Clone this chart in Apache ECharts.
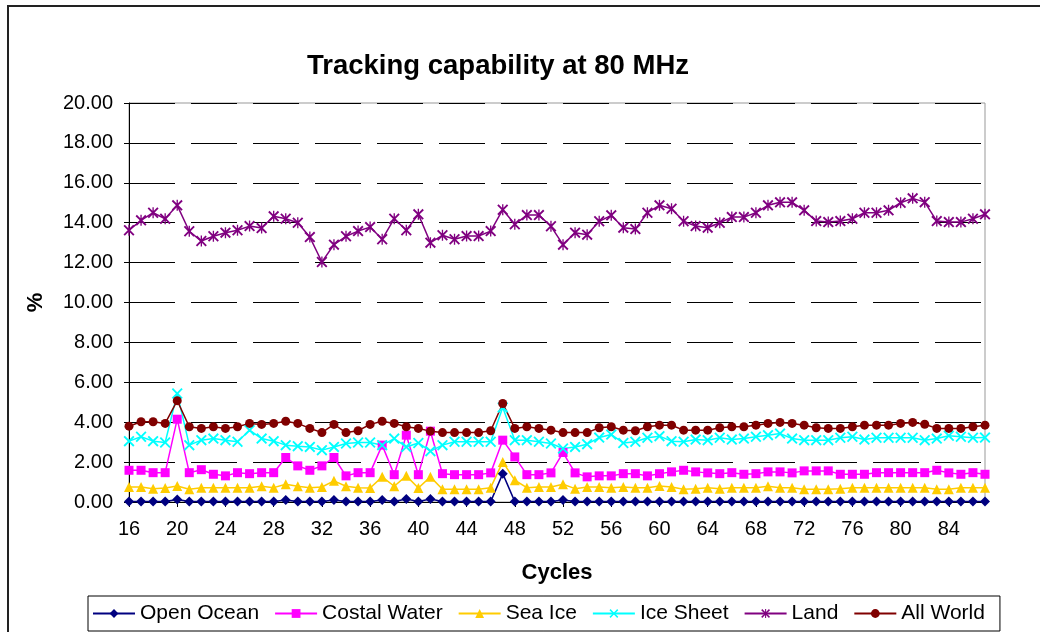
<!DOCTYPE html>
<html><head><meta charset="utf-8">
<script src="https://cdn.jsdelivr.net/npm/echarts@6/dist/echarts.min.js"></script>
<style>html,body{margin:0;padding:0;background:#fff}#c{width:1040px;height:632px}</style>
</head><body><div id="c"></div>
<script>
const cycles = ['16','17','18','19','20','21','22','23','24','25','26','27','28','29','30','31','32','33','34','35','36','37','38','39','40','41','42','43','44','45','46','47','48','49','50','51','52','53','54','55','56','57','58','59','60','61','62','63','64','65','66','67','68','69','70','71','72','73','74','75','76','77','78','79','80','81','82','83','84','85','86','87'];
const yTicks = [0, 20, 2];
const openOcean = [0.02,0.02,0.02,0.02,0.13,0.02,0.02,0.02,0.02,0.02,0.02,0.02,0.02,0.10,0.02,0.02,0.02,0.10,0.02,0.02,0.02,0.10,0.02,0.15,0.02,0.15,0.02,0.02,0.02,0.02,0.02,1.42,0.02,0.02,0.02,0.02,0.10,0.02,0.02,0.02,0.02,0.02,0.02,0.02,0.02,0.02,0.02,0.02,0.02,0.02,0.02,0.02,0.02,0.02,0.02,0.02,0.02,0.02,0.02,0.02,0.02,0.02,0.02,0.02,0.02,0.02,0.02,0.02,0.02,0.02,0.02,0.02];
const costalWater = [1.59,1.59,1.47,1.47,4.15,1.47,1.62,1.39,1.31,1.47,1.42,1.47,1.47,2.23,1.81,1.59,1.81,2.23,1.31,1.47,1.47,2.85,1.37,3.35,1.37,3.55,1.42,1.37,1.37,1.37,1.46,3.10,2.26,1.37,1.37,1.46,2.48,1.46,1.26,1.31,1.31,1.42,1.42,1.31,1.42,1.51,1.59,1.51,1.46,1.42,1.47,1.39,1.42,1.51,1.51,1.46,1.56,1.56,1.56,1.39,1.39,1.39,1.47,1.47,1.47,1.47,1.47,1.59,1.46,1.39,1.47,1.39];
const seaIce = [0.75,0.75,0.67,0.70,0.80,0.64,0.72,0.72,0.72,0.72,0.72,0.79,0.72,0.89,0.79,0.72,0.75,1.06,0.79,0.72,0.70,1.26,0.79,1.31,0.70,1.26,0.64,0.64,0.64,0.64,0.72,2.01,1.09,0.72,0.75,0.75,0.89,0.67,0.75,0.75,0.72,0.75,0.72,0.72,0.80,0.75,0.64,0.67,0.72,0.67,0.72,0.72,0.72,0.79,0.72,0.72,0.64,0.64,0.64,0.67,0.72,0.72,0.72,0.72,0.72,0.72,0.72,0.64,0.64,0.72,0.72,0.72];
const iceSheet = [3.05,3.27,3.05,2.98,5.44,2.85,3.10,3.18,3.10,3.02,3.60,3.18,3.05,2.85,2.80,2.76,2.60,2.76,2.93,2.98,2.98,2.85,3.18,2.76,2.96,2.55,2.85,3.02,3.02,3.02,3.02,4.74,3.10,3.10,3.02,2.93,2.68,2.76,2.90,3.23,3.38,2.96,3.02,3.22,3.30,3.05,3.02,3.13,3.10,3.22,3.13,3.18,3.27,3.35,3.43,3.18,3.10,3.10,3.10,3.22,3.27,3.13,3.22,3.22,3.22,3.22,3.10,3.18,3.32,3.27,3.22,3.23];
const land = [13.62,14.12,14.50,14.20,14.87,13.57,13.08,13.32,13.50,13.62,13.83,13.73,14.32,14.20,14.00,13.28,12.03,12.90,13.32,13.58,13.78,13.17,14.20,13.62,14.42,13.00,13.37,13.17,13.33,13.33,13.58,14.65,13.92,14.38,14.38,13.82,12.90,13.50,13.40,14.07,14.37,13.75,13.68,14.50,14.87,14.70,14.07,13.83,13.75,14.00,14.28,14.28,14.50,14.87,15.02,15.02,14.62,14.08,14.03,14.08,14.20,14.50,14.50,14.62,15.00,15.22,15.03,14.08,14.03,14.03,14.20,14.42];
const allWorld = [3.80,4.02,4.02,3.94,5.08,3.77,3.69,3.77,3.69,3.77,3.94,3.89,3.94,4.05,3.94,3.69,3.48,3.89,3.48,3.57,3.89,4.05,3.94,3.77,3.69,3.55,3.48,3.48,3.48,3.48,3.57,4.94,3.69,3.77,3.69,3.60,3.48,3.48,3.48,3.72,3.77,3.60,3.57,3.77,3.85,3.85,3.60,3.60,3.60,3.72,3.77,3.77,3.85,3.94,3.99,3.94,3.85,3.72,3.69,3.69,3.77,3.85,3.85,3.85,3.94,3.99,3.90,3.69,3.69,3.69,3.77,3.85];
const seriesNames = ['Open Ocean','Costal Water','Sea Ice','Ice Sheet','Land','All World'];
const seriesColors = ['#000080','#FF00FF','#FFCC00','#00FFFF','#800080','#800000'];

const XSYM = 'path://M0,1.2L1.2,0L5,3.8L8.8,0L10,1.2L6.2,5L10,8.8L8.8,10L5,6.2L1.2,10L0,8.8L3.8,5Z';
const STAR = 'path://M0,1.2L1.2,0L5,3.8L8.8,0L10,1.2L6.2,5L10,8.8L8.8,10L5,6.2L1.2,10L0,8.8L3.8,5Z M4.4,0L5.6,0L5.6,10L4.4,10Z';
const symbols = ['diamond','rect','triangle',XSYM,STAR,'circle'];
const sizes = [10,9,10,11,11,9];
const datasets = [openOcean,costalWater,seaIce,iceSheet,land,allWorld];

const FONT = 'Liberation Sans, Arial, sans-serif';
const chart = echarts.init(document.getElementById('c'), null, {renderer:'canvas'});
chart.setOption({
  animation:false,
  backgroundColor:'#fff',
  textStyle:{fontFamily:FONT},
  title:{text:'Tracking capability at 80 MHz', left:302, top:47,
    textStyle:{fontFamily:FONT,fontSize:27.5,fontWeight:'bold',color:'#000'}},
  graphic:[{type:'rect', shape:{x:8,y:6,width:1100,height:700}, style:{fill:'none',stroke:'#222',lineWidth:2}, silent:true}],
  legend:{data:seriesNames, left:88, top:596, orient:'horizontal',
    borderColor:'#000', borderWidth:1, padding:[7,15,7,4], itemGap:15, itemWidth:42, itemHeight:11,
    textStyle:{fontFamily:FONT,fontSize:21,color:'#000'}},
  grid:{left:129,right:55,top:103,bottom:130,show:true,borderColor:'#999',borderWidth:1,backgroundColor:'transparent'},
  xAxis:{type:'category',data:cycles,boundaryGap:false,
    name:'Cycles',nameLocation:'middle',nameGap:60,
    nameTextStyle:{fontFamily:FONT,fontSize:22,fontWeight:'bold',color:'#000'},
    axisLine:{lineStyle:{color:'#000',width:1}},
    axisTick:{show:true,interval:3,length:5,inside:false,lineStyle:{color:'#000'}},
    axisLabel:{interval:3,fontFamily:FONT,fontSize:20,color:'#000',margin:17},
    splitLine:{show:false}},
  yAxis:{type:'value',min:yTicks[0],max:yTicks[1],interval:yTicks[2],
    name:'%',nameLocation:'middle',nameGap:82,nameRotate:90,
    nameTextStyle:{fontFamily:FONT,fontSize:22,fontWeight:'bold',color:'#000'},
    axisLine:{show:true,lineStyle:{color:'#000',width:1}},
    axisTick:{show:true,length:5,lineStyle:{color:'#000'}},
    axisLabel:{fontFamily:FONT,fontSize:20,color:'#000',margin:16,formatter:v=>v.toFixed(2)},
    splitLine:{show:true,lineStyle:{color:'#000',width:1,type:[46,16],dashOffset:0}}},
  series: seriesNames.map((n,i)=>({
    name:n,type:'line',data:datasets[i],
    symbol:symbols[i],symbolSize:sizes[i],showSymbol:true,showAllSymbol:true,
    itemStyle:{color:seriesColors[i]},
    lineStyle:{color:seriesColors[i],width:1.5},
    emphasis:{disabled:true}
  }))
});
</script></body></html>
